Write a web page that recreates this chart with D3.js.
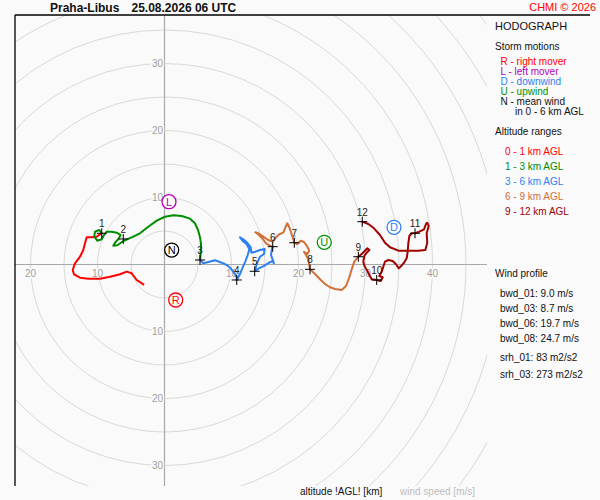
<!DOCTYPE html>
<html><head><meta charset="utf-8">
<script src="https://cdn.jsdelivr.net/npm/d3@7"></script>
<style>
html,body{margin:0;padding:0;background:#fafafa;}
svg{display:block;font-family:"Liberation Sans",Arial,sans-serif;}
</style></head>
<body>
<svg id="c" width="600" height="500"></svg>
<script>
// ---- data (u, v components in m/s) ----
const station = "Praha-Libus";
const timeLabel = "25.08.2026 06 UTC";
const copyright = "CHMI \u00a9 2026";

const seg0_1 = [[-3.16,-2.96],[-4.15,-2.31],[-4.90,-1.31],[-5.64,-1.07],[-6.64,-1.46],[-8.13,-1.82],[-9.63,-2.12],[-11.37,-2.12],[-12.61,-1.97],[-13.51,-1.46],[-13.70,-0.82],[-13.36,0.18],[-12.61,1.16],[-12.12,2.16],[-11.87,3.16],[-11.61,4.06],[-10.87,4.06],[-10.12,4.15],[-9.37,4.66]];
const seg1_3 = [[-9.37,4.66],[-9.73,5.15],[-10.37,4.90],[-10.48,4.15],[-10.03,3.55],[-9.37,3.76],[-9.03,4.40],[-8.63,4.90],[-7.88,4.90],[-7.13,4.75],[-6.54,4.40],[-6.90,3.76],[-7.39,3.25],[-7.64,2.81],[-7.04,2.87],[-6.15,3.51],[-4.90,4.06],[-3.66,4.66],[-2.42,5.64],[-1.16,6.54],[0.07,7.13],[1.31,7.34],[2.57,7.24],[3.81,6.84],[4.55,6.15],[5.00,5.15],[5.30,4.06],[5.45,3.06],[5.40,1.91],[5.34,0.93],[5.30,0.67]];
const seg3_6 = [[5.30,0.67],[5.79,0.18],[6.54,0.37],[7.54,0.63],[8.54,0.27],[9.28,-0.07],[9.88,-0.57],[10.37,-1.22],[10.78,-1.91],[10.78,-2.31],[11.27,-1.42],[11.67,-0.42],[12.06,0.42],[12.42,1.42],[12.66,2.27],[12.27,3.01],[11.67,3.51],[11.27,4.06],[11.76,3.76],[12.36,3.25],[12.87,2.57],[12.96,1.76],[13.55,1.91],[14.25,2.16],[14.96,2.31],[14.85,1.57],[14.25,1.16],[13.91,0.42],[13.66,-0.33],[13.46,-1.01],[14.00,-0.63],[14.85,-0.22],[15.64,0.27],[16.15,0.52],[16.34,0.18],[15.90,1.42],[16.00,2.16],[16.15,2.66]];
const seg6_9 = [[16.15,2.66],[15.75,2.81],[15.15,3.16],[14.66,3.85],[14.06,4.45],[13.55,4.81],[14.00,4.66],[14.75,4.15],[15.49,3.66],[16.15,3.40],[16.64,4.06],[17.13,4.51],[17.73,4.75],[18.09,5.64],[18.33,6.15],[18.63,5.55],[18.93,4.66],[19.22,3.76],[19.37,3.25],[19.82,3.06],[20.33,3.55],[20.82,3.36],[21.31,2.66],[21.61,2.06],[21.31,1.57],[20.82,1.91],[21.12,1.42],[21.46,0.78],[21.61,-0.07],[21.72,-0.72],[22.46,-1.42],[23.21,-2.21],[23.96,-2.91],[24.70,-3.40],[25.45,-3.66],[26.45,-3.81],[27.09,-3.21],[27.58,-1.91],[27.99,-0.57],[28.33,0.42],[28.93,1.16]];
const seg9_12 = [[28.93,1.16],[29.43,1.57],[29.93,2.06],[30.27,2.42],[30.57,2.16],[30.18,1.76],[29.82,1.27],[29.67,0.42],[29.88,-0.33],[30.27,-0.93],[30.57,-1.57],[30.93,-2.21],[31.67,-2.31],[32.27,-2.46],[32.57,-1.91],[32.06,-1.72],[32.42,-1.07],[32.66,-0.33],[32.91,0.42],[33.40,0.67],[34.06,0.52],[34.55,0.03],[34.96,-0.57],[35.34,-0.22],[35.75,0.27],[36.15,0.93],[36.30,1.91],[36.39,3.16],[36.54,4.25],[36.90,4.66],[37.39,4.66],[38.03,4.90],[38.73,5.25],[39.03,6.04],[39.22,6.24],[39.43,5.75],[39.13,4.66],[39.22,3.25],[38.93,2.16],[37.88,2.06],[36.39,2.06],[34.90,2.06],[33.66,2.57],[32.91,3.25],[32.16,4.40],[31.27,5.40],[30.42,6.04],[29.52,6.39]];

const heightKm = [1,2,3,4,5,6,7,8,9,10,11,12];
const heightU = [-9.37,-6.15,5.30,10.78,13.46,16.15,19.37,21.72,28.93,31.67,37.39,29.52];
const heightV = [4.66,3.81,0.67,-2.31,-1.01,2.66,3.25,-0.72,1.16,-2.31,4.66,6.39];

const motionIds = ["R","L","N","U","D"];
const motionU = [1.67,0.67,1.07,23.85,34.25];
const motionV = [-5.30,9.37,2.16,3.31,5.55];

const ringValues = [5,10,15,20,25,30,35,40,45,50,55,60,65,70];
const xTickLabels = [-20,-10,10,20,30,40];
const yTickLabels = [-30,-20,-10,10,20,30];

const stormLegend = ["R - right mover","L - left mover","D - downwind","U - upwind","N - mean wind","in 0 - 6 km AGL"];
const altitudeLegend = ["0 - 1 km AGL","1 - 3 km AGL","3 - 6 km AGL","6 - 9 km AGL","9 - 12 km AGL"];
const windProfileNames = ["bwd_01","bwd_03","bwd_06","bwd_08","srh_01","srh_03"];
const windProfileValues = [9.0,8.7,19.7,24.7,83,273];
const windProfileUnits = ["m/s","m/s","m/s","m/s","m2/s2","m2/s2"];

// ---- styles ----
const segColors = ["#ff0000","#008c00","#2f7ff0","#d2703a","#a00000"];
const motionColors = {R:"#ff0000",L:"#b400b4",N:"#000000",U:"#009000",D:"#2f7ff0"};
const stormLegendColors = ["#ff0000","#b400b4","#2f7ff0","#009000","#111","#111"];

const svg = d3.select("#c");
const x = d3.scaleLinear().domain([-20,40]).range([164.5-134,164.5+268]);
const y = d3.scaleLinear().domain([-30,30]).range([264.5+201,264.5-201]);
const pxPerUnit = x(1)-x(0);

const clipL=15, clipT=15, clipR=487, clipB=486;
svg.append("clipPath").attr("id","plotclip").append("rect")
  .attr("x",clipL).attr("y",clipT).attr("width",clipR-clipL).attr("height",clipB-clipT);

const plot = svg.append("g").attr("clip-path","url(#plotclip)");

// rings
plot.selectAll("circle.ring").data(ringValues).join("circle")
  .attr("class","ring").attr("cx",x(0)).attr("cy",y(0))
  .attr("r",d=>d*pxPerUnit).attr("fill","none").attr("stroke","#d9d9d9").attr("stroke-width",1);

// axes
plot.append("line").attr("x1",x(0)).attr("x2",x(0)).attr("y1",clipT).attr("y2",clipB)
  .attr("stroke","#a8a8a8").attr("stroke-width",1.2);
plot.append("line").attr("x1",clipL).attr("x2",clipR).attr("y1",y(0)).attr("y2",y(0))
  .attr("stroke","#a8a8a8").attr("stroke-width",1.2);

// tick labels
const lblStyle = s => s.attr("font-size",10).attr("fill","#a0a0a0")
  .attr("stroke","#fafafa").attr("stroke-width",3).attr("paint-order","stroke");
plot.selectAll("text.xt").data(xTickLabels).join("text").attr("class","xt")
  .attr("x",d=>x(d)).attr("y",y(0)+12).attr("text-anchor","middle")
  .text(d=>Math.abs(d)).call(lblStyle);
plot.selectAll("text.yt").data(yTickLabels).join("text").attr("class","yt")
  .attr("x",x(0)-1.5).attr("y",d=>y(d)+3.6).attr("text-anchor","end")
  .text(d=>Math.abs(d)).call(lblStyle);

// hodograph segments
const line = d3.line().x(d=>x(d[0])).y(d=>y(d[1]));
[seg0_1,seg1_3,seg3_6,seg6_9,seg9_12].forEach((seg,i)=>{
  plot.append("path").attr("d",line(seg)).attr("fill","none")
    .attr("stroke",segColors[i]).attr("stroke-width",2)
    .attr("stroke-linejoin","round").attr("stroke-linecap","round");
});

// height marks
const hm = plot.selectAll("g.hm").data(heightKm).join("g").attr("class","hm")
  .attr("transform",(d,i)=>`translate(${x(heightU[i])},${y(heightV[i])})`);
hm.append("line").attr("x1",-5).attr("x2",5).attr("y1",0).attr("y2",0).attr("stroke","#000").attr("stroke-width",1);
hm.append("line").attr("x1",0).attr("x2",0).attr("y1",-5).attr("y2",5).attr("stroke","#000").attr("stroke-width",1);
hm.append("text").attr("x",0).attr("y",-6).attr("text-anchor","middle")
  .attr("font-size",10).attr("fill","#222").text(d=>d);

// storm motion markers
const sm = plot.selectAll("g.sm").data(motionIds).join("g").attr("class","sm")
  .attr("transform",(d,i)=>`translate(${x(motionU[i])},${y(motionV[i])})`);
sm.append("circle").attr("r",7).attr("fill","#fff").attr("stroke",d=>motionColors[d]).attr("stroke-width",1.3);
sm.append("text").attr("y",4).attr("text-anchor","middle").attr("font-size",11)
  .attr("fill",d=>motionColors[d]).text(d=>d);

// frame
svg.append("line").attr("x1",clipL).attr("x2",clipL).attr("y1",clipT).attr("y2",clipB).attr("stroke","#000").attr("stroke-width",1.3);
svg.append("line").attr("x1",clipL).attr("x2",590).attr("y1",clipT).attr("y2",clipT).attr("stroke","#000").attr("stroke-width",1.3);

// header
svg.append("text").attr("x",50).attr("y",11.5).attr("font-size",12).attr("font-weight","bold").attr("fill","#111").text(station);
svg.append("text").attr("x",131.5).attr("y",11.5).attr("font-size",12).attr("font-weight","bold").attr("fill","#111").text(timeLabel);
svg.append("text").attr("x",596).attr("y",10.7).attr("text-anchor","end").attr("font-size",11).attr("fill","#ff0000").text(copyright);

// legend
const lg = svg.append("g").attr("font-size",10).attr("fill","#111");
lg.append("text").attr("x",495).attr("y",30).attr("font-size",11).text("HODOGRAPH");
lg.append("text").attr("x",495).attr("y",50.3).text("Storm motions");
lg.selectAll("text.sl").data(stormLegend).join("text").attr("class","sl")
  .attr("x",(d,i)=>i===5?515:500.5).attr("y",(d,i)=>65.3+i*10)
  .attr("fill",(d,i)=>stormLegendColors[i]).text(d=>d);
lg.append("text").attr("x",495).attr("y",135.3).text("Altitude ranges");
lg.selectAll("text.al").data(altitudeLegend).join("text").attr("class","al")
  .attr("x",505).attr("y",(d,i)=>155.3+i*15)
  .attr("fill",(d,i)=>segColors[i]).text(d=>d);
lg.append("text").attr("x",495).attr("y",276.5).text("Wind profile");
lg.selectAll("text.wp").data(windProfileNames).join("text").attr("class","wp")
  .attr("x",500).attr("y",(d,i)=>i<4 ? 297+i*15 : 361+(i-4)*17)
  .text((d,i)=>`${d}: ${i<4?windProfileValues[i].toFixed(1):windProfileValues[i]} ${windProfileUnits[i]}`);

// bottom captions
svg.append("text").attr("x",300).attr("y",495.3).attr("font-size",10).attr("fill","#111").text("altitude !AGL! [km]");
svg.append("text").attr("x",400).attr("y",495.3).attr("font-size",10).attr("fill","#bdbdbd").text("wind speed [m/s]");
</script>
</body></html>
